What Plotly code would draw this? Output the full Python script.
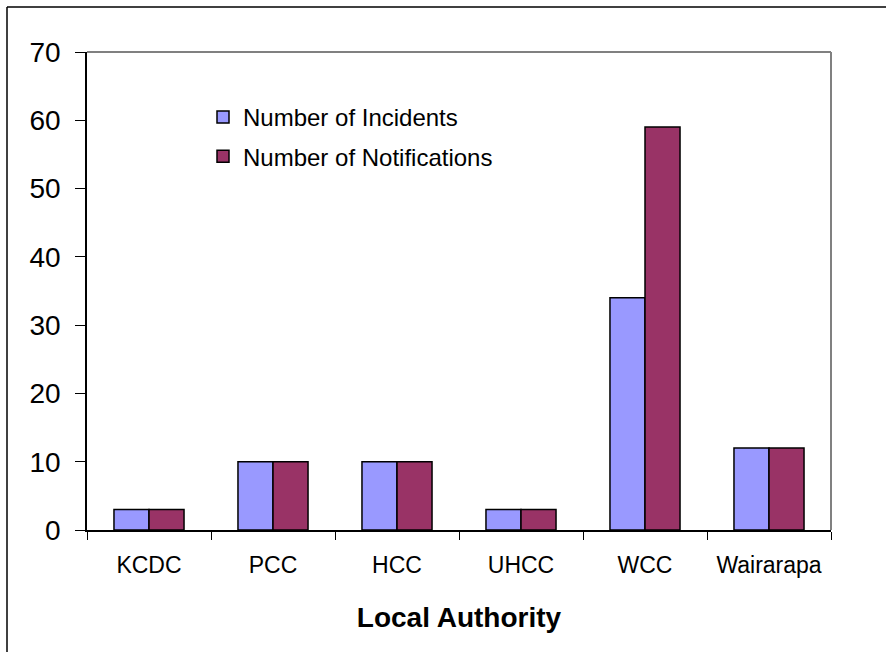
import plotly.graph_objects as go

categories = ["KCDC", "PCC", "HCC", "UHCC", "WCC", "Wairarapa"]
incidents = [3, 10, 10, 3, 34, 12]
notifications = [3, 10, 10, 3, 59, 12]
y_ticks = [0, 10, 20, 30, 40, 50, 60, 70]

W, H = 886, 652
L, R, T, B = 87, 55, 52, 122
pw, ph = W - L - R, H - T - B

fig = go.Figure()
fig.add_trace(go.Bar(name="Number of Incidents", x=categories, y=incidents,
                     marker=dict(color="#9999FF", line=dict(color="#000000", width=1.5)),
                     legendgroup="a"))
fig.add_trace(go.Bar(name="Number of Notifications", x=categories, y=notifications,
                     marker=dict(color="#993366", line=dict(color="#000000", width=1.5)),
                     legendgroup="b"))

font = "Liberation Sans, Arial, sans-serif"

def px_x(p):
    return (p - L) / pw

def px_y(p):
    return (H - B - p) / ph

shapes = [
    dict(type="line", xref="paper", yref="paper", x0=0, x1=1, y0=1, y1=1,
         line=dict(color="#808080", width=2)),
    dict(type="line", xref="paper", yref="paper", x0=1, x1=1, y0=0, y1=1,
         line=dict(color="#808080", width=2)),
    dict(type="line", xref="paper", yref="paper", x0=px_x(7), x1=px_x(W + 5), y0=px_y(7), y1=px_y(7),
         line=dict(color="#000000", width=1.5)),
    dict(type="line", xref="paper", yref="paper", x0=px_x(7), x1=px_x(7), y0=px_y(7), y1=px_y(H + 5),
         line=dict(color="#000000", width=1.5)),
]

fig.update_layout(
    width=W, height=H,
    margin=dict(l=L, r=R, t=T, b=B, pad=0),
    paper_bgcolor="white", plot_bgcolor="white",
    barmode="group", bargap=0.435, bargroupgap=0,
    font=dict(family=font, color="#000000"),
    showlegend=True,
    legend=dict(x=px_x(203), y=px_y(95), xanchor="left", yanchor="top",
                font=dict(size=24, family=font), bgcolor="rgba(0,0,0,0)",
                traceorder="grouped", tracegroupgap=5),
    shapes=shapes,
    xaxis=dict(
        type="category",
        showline=True, linecolor="#000000", linewidth=1.5,
        ticks="outside", tickson="boundaries", ticklen=8, tickcolor="#000000", tickwidth=1,
        tickfont=dict(size=23, family=font),
        ticklabelstandoff=14,
        showgrid=False, zeroline=False,
        title=dict(text="<b>Local Authority</b>", font=dict(size=28, family=font), standoff=30),
    ),
    yaxis=dict(
        range=[0, 70], tickvals=y_ticks,
        showline=True, linecolor="#000000", linewidth=1.5,
        ticks="outside", ticklen=10, tickcolor="#000000", tickwidth=1,
        tickfont=dict(size=28, family=font),
        ticklabelstandoff=9,
        showgrid=False, zeroline=False,
    ),
)

fig.write_html("out.html", config={"displayModeBar": False},
               post_script="document.body.style.margin='0';")
